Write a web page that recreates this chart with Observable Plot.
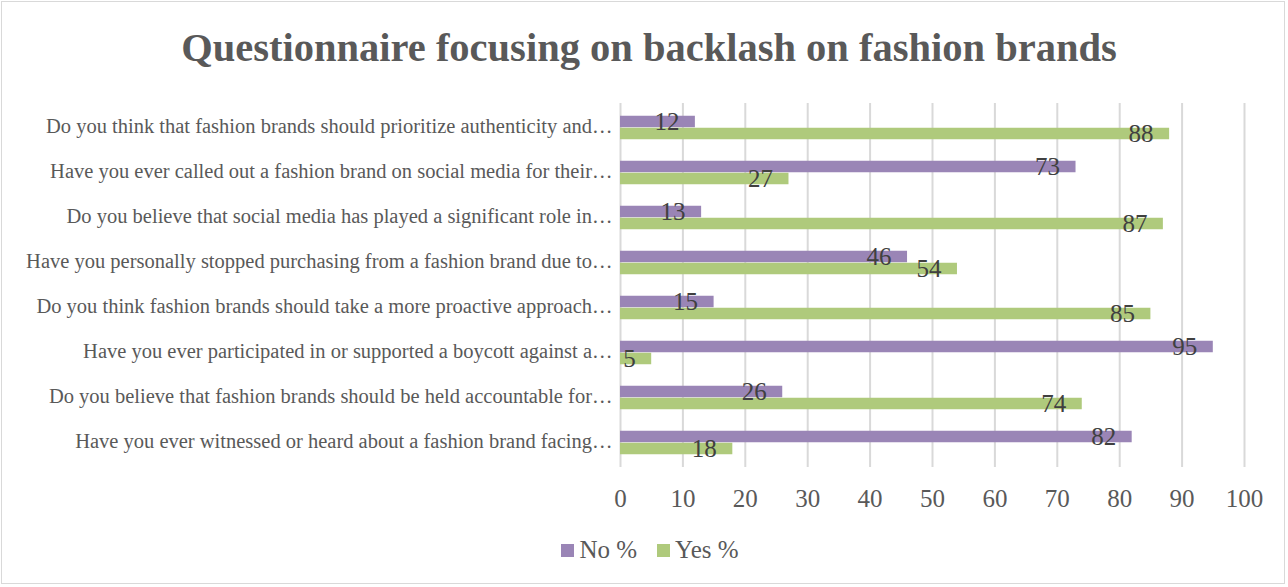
<!DOCTYPE html>
<html>
<head>
<meta charset="utf-8">
<script src="https://cdn.jsdelivr.net/npm/d3@7"></script>
<script src="https://cdn.jsdelivr.net/npm/@observablehq/plot@0.6"></script>
<style>
  html, body { margin: 0; padding: 0; background: #fff; }
  #chart { position: relative; width: 1288px; height: 587px; font-family: "Liberation Serif", "Times New Roman", serif; overflow: hidden; }
  #frame { position: absolute; left: 1px; top: 1px; width: 1284px; height: 583px; border: 1px solid #d9d9d9; box-sizing: border-box; pointer-events: none; }
  #title { position: absolute; left: 0; top: 28px; width: 1298px; text-align: center; font-size: 40.5px; line-height: 40px; font-weight: bold; color: #595959; }
  #plot { position: absolute; left: 0; top: 89px; }
  #legend { position: absolute; left: 0; top: 536px; width: 1300px; display: flex; justify-content: center; align-items: center; font-size: 25px; color: #595959; }
  .item { display: flex; align-items: center; margin: 0 10px; }
  .sw { width: 13px; height: 13px; margin-right: 5px; }
  #plot svg text { font-family: "Liberation Serif", "Times New Roman", serif; }
</style>
</head>
<body>
<div id="chart">
  <div id="frame"></div>
  <div id="title">Questionnaire focusing on backlash on fashion brands</div>
  <div id="plot"></div>
  <div id="legend"></div>
</div>
<script>
const questions = [
  "Do you think that fashion brands should prioritize authenticity and…",
  "Have you ever called out a fashion brand on social media for their…",
  "Do you believe that social media has played a significant role in…",
  "Have you personally stopped purchasing from a fashion brand due to…",
  "Do you think fashion brands should take a more proactive approach…",
  "Have you ever participated in or supported a boycott against a…",
  "Do you believe that fashion brands should be held accountable for…",
  "Have you ever witnessed or heard about a fashion brand facing…"
];
const noPct  = [12, 73, 13, 46, 15, 95, 26, 82];
const yesPct = [88, 27, 87, 54, 85, 5, 74, 18];
const seriesNames = ["No %", "Yes %"];
const seriesColors = ["#9a85b6", "#afca7c"];
const xTicks = [0, 10, 20, 30, 40, 50, 60, 70, 80, 90, 100];

const noData = questions.map((q, i) => ({q, v: noPct[i]}));
const yesData = questions.map((q, i) => ({q, v: yesPct[i]}));

const bandH = 45.5;
const barH = 12;
const serif = "'Liberation Serif', 'Times New Roman', serif";

const chart = Plot.plot({
  width: 1288,
  height: 440,
  marginTop: 14,
  marginBottom: 62,
  marginLeft: 620,
  marginRight: 44,
  style: {fontFamily: serif, background: "transparent"},
  x: {domain: [0, 100], ticks: xTicks},
  y: {domain: questions, padding: 0},
  marks: [
    Plot.ruleX(xTicks, {stroke: "#d9d9d9", strokeWidth: 2}),
    Plot.barX(noData, {x: "v", y: "q", fill: seriesColors[0], insetTop: bandH / 2 - barH, insetBottom: bandH / 2}),
    Plot.barX(yesData, {x: "v", y: "q", fill: seriesColors[1], insetTop: bandH / 2, insetBottom: bandH / 2 - barH}),
    Plot.text(noData, {x: "v", y: "q", text: d => String(d.v), dy: -barH / 2, dx: -16, textAnchor: "end", fontSize: 25, fill: "#404040", fontFamily: serif}),
    Plot.text(yesData, {x: "v", y: "q", text: d => String(d.v), dy: barH / 2, dx: -16, textAnchor: "end", fontSize: 25, fill: "#404040", fontFamily: serif}),
    Plot.axisX({ticks: xTicks, tickSize: 0, tickPadding: 22, fontSize: 25, fill: "#595959", label: null, fontFamily: serif}),
    Plot.axisY({tickSize: 0, tickPadding: 8, fontSize: 20.5, fill: "#595959", label: null, fontFamily: serif, dy: -1.5})
  ]
});
document.getElementById("plot").appendChild(chart);

const legend = document.getElementById("legend");
seriesNames.forEach((name, i) => {
  const item = document.createElement("div");
  item.className = "item";
  const sw = document.createElement("div");
  sw.className = "sw";
  sw.style.background = seriesColors[i];
  const label = document.createElement("span");
  label.textContent = name;
  item.appendChild(sw);
  item.appendChild(label);
  legend.appendChild(item);
});
</script>
</body>
</html>
